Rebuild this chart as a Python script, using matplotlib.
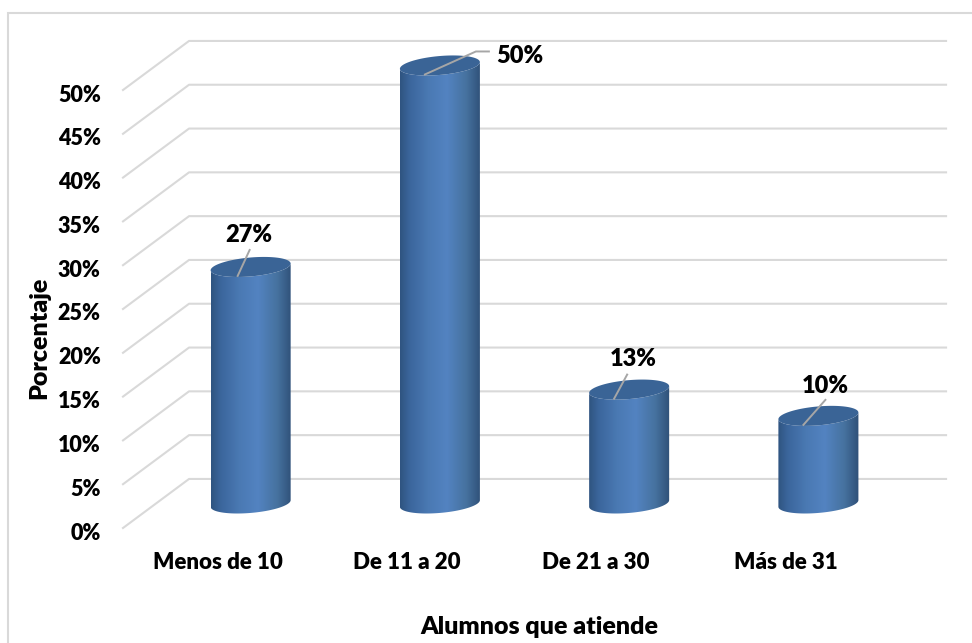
import numpy as np
import matplotlib
matplotlib.use("Agg")
import matplotlib.pyplot as plt
from matplotlib.colors import LinearSegmentedColormap
from matplotlib.patches import PathPatch, Polygon
from matplotlib.path import Path
from matplotlib.transforms import ScaledTranslation

# chart data
categories = ["Menos de 10", "De 11 a 20", "De 21 a 30", "Más de 31"]
values = [27, 50, 13, 10]
value_labels = ["27%", "50%", "13%", "10%"]
y_ticks = [0, 5, 10, 15, 20, 25, 30, 35, 40, 45, 50]
y_tick_labels = ["0%", "5%", "10%", "15%", "20%", "25%", "30%", "35%", "40%", "45%", "50%"]
x_title = "Alumnos que atiende"
y_title = "Porcentaje"

W, H = 972, 643
GRID = "#d9d9d9"
LEADER = "#a6a6a6"
FONT = "Lato"
WEIGHT = "heavy"

# fake 3d depth of the floor, in data units
DEPTH_X = 0.349
DEPTH_Y = 5.6
# cylinder ellipse sizes, in data units
RX = 0.2114
TILT = 0.38
MINOR = 1.08

# leader line points in pixels relative to the top centre of each bar
leader_offsets = [
    [(-13, -9), (-1, 17)],
    [(-15, -9), (36, 14), (49, 14)],
    [(-15, -9), (-2, 15)],
    [(-15, -9), (7, 16)],
]
label_offsets = [(-2, 32), (80, 9), (4, 31), (7, 30)]

body_cmap = LinearSegmentedColormap.from_list(
    "cyl",
    [(0.0, "#2f5480"), (0.12, "#3b669c"), (0.35, "#4a79b3"), (0.58, "#5383c1"),
     (0.82, "#46729f"), (1.0, "#2f5078")],
)


def ellipse_points(cx, cy, t):
    return np.column_stack([cx + RX * np.cos(t), cy + TILT * np.cos(t) + MINOR * np.sin(t)])


def draw_cylinder(ax, cx, base, top):
    t_front = np.linspace(np.pi, 2 * np.pi, 60)
    bottom_edge = ellipse_points(cx, base, t_front)
    top_edge = ellipse_points(cx, top, t_front)[::-1]
    verts = np.vstack([bottom_edge, top_edge, bottom_edge[:1]])
    body = PathPatch(Path(verts), fc="none", ec="none", transform=ax.transData, clip_on=False)
    ax.add_patch(body)
    gradient = np.linspace(0, 1, 256).reshape(1, -1)
    im = ax.imshow(gradient, cmap=body_cmap, aspect="auto", zorder=3,
                   extent=[cx - RX, cx + RX, base - 2, top + 2])
    im.set_clip_box(ax.figure.bbox)
    im.set_clip_path(body)
    cap = Polygon(ellipse_points(cx, top, np.linspace(0, 2 * np.pi, 120)),
                  closed=True, fc="#3a6496", ec="none", zorder=4, clip_on=False)
    ax.add_patch(cap)


fig = plt.figure(figsize=(W / 100, H / 100), dpi=100)
fig.patch.set_facecolor("white")

# outer frame, only the left and top edges are visible
frame = fig.add_axes([0, 0, 1, 1], facecolor="none")
frame.set_xlim(0, W)
frame.set_ylim(H, 0)
frame.axis("off")
frame.plot([8, 8, W], [H, 13, 13], color=GRID, lw=1.5, solid_joinstyle="miter")

ax = fig.add_axes([123 / W, 1 - 528 / H, 757 / W, 438 / H], facecolor="none")
ax.set_xlim(-0.5, 3.5)
ax.set_ylim(0, 50)
for side in ax.spines.values():
    side.set_visible(False)

x_pos = np.arange(len(categories))

# walls: slanted floor line then the back wall line
for v in y_ticks:
    ax.plot([-0.5, -0.5 + DEPTH_X, 3.5 + DEPTH_X], [v, v + DEPTH_Y, v + DEPTH_Y],
            color=GRID, lw=1.5, clip_on=False, zorder=1)

for x, v in zip(x_pos, values):
    draw_cylinder(ax, x + DEPTH_X / 2, DEPTH_Y / 2, v + DEPTH_Y / 2)

ax.set_xlim(-0.5, 3.5)
ax.set_ylim(0, 50)

# value labels and their leader lines
for x, v, txt, pts, lab in zip(x_pos, values, value_labels, leader_offsets, label_offsets):
    anchor = (x + DEPTH_X / 2, v + DEPTH_Y / 2)
    origin = ax.transData.transform(anchor)
    line = np.array([origin + np.array(p) for p in pts])
    ax.plot(line[:, 0], line[:, 1], color=LEADER, lw=1.4, transform=None, zorder=5, clip_on=False)
    ax.annotate(txt, xy=anchor, xytext=lab, textcoords="offset pixels", ha="center", va="center",
                fontsize=17, fontweight=WEIGHT, family=FONT, color="black", zorder=6,
                annotation_clip=False)

ax.set_yticks(y_ticks)
ax.set_yticklabels(y_tick_labels, fontsize=15.5, fontweight=WEIGHT, family=FONT)
ax.set_xticks(x_pos)
ax.set_xticklabels(categories, fontsize=16, fontweight=WEIGHT, family=FONT)
ax.tick_params(axis="both", length=0, colors="black")
ax.tick_params(axis="y", pad=16)
ax.tick_params(axis="x", pad=17)

# percent labels sit a little under their slanted line start
nudge = ScaledTranslation(0, -3 / 100, fig.dpi_scale_trans)
for t in ax.get_yticklabels():
    t.set_transform(t.get_transform() + nudge)

frame.text(539, 627, x_title, ha="center", va="center", fontsize=18, fontweight=WEIGHT, family=FONT)
frame.text(39, 338, y_title, ha="center", va="center", rotation=90, fontsize=18,
           fontweight=WEIGHT, family=FONT)

fig.savefig("out.png", dpi=100, facecolor="white")
